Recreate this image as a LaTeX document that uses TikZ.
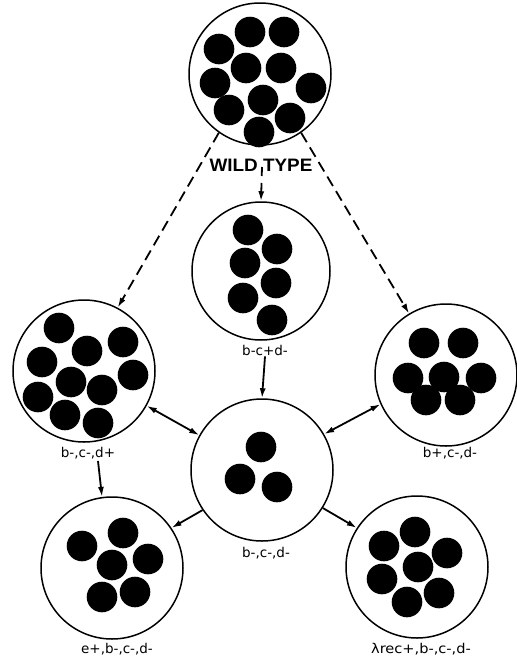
\documentclass[tikz,border=0pt]{standalone}
\usepackage{fontspec}
\setmainfont{Liberation Sans}
\newfontfamily\labelfont{DejaVu Sans}
\usetikzlibrary{arrows.meta}
\begin{document}
\begin{tikzpicture}[x=1pt,y=-1pt,
  colony/.style={circle,draw=black,line width=1.5pt,minimum size=142pt,inner sep=0pt},
  genotype/.style={font=\labelfont\fontsize{13.5}{15}\selectfont,inner sep=1pt},
  link/.style={line width=1.8pt,-{Latex[length=10pt,width=6pt]}},
  twoway/.style={line width=1.8pt,{Latex[length=10pt,width=6pt]}-{Latex[length=10pt,width=6pt]}},
  dashlink/.style={link,dash pattern=on 11pt off 6pt},
  dotr/.store in=\dotr, dotr=15.3]
\useasboundingbox (0,0) rectangle (517,659);

% colonies
\node[colony] (wt) at (260,74) {};
\node[colony,minimum size=138pt] (m) at (261,271) {};
\node[colony] (l) at (84,371) {};
\node[colony] (r) at (446,375) {};
\node[colony] (c) at (262,470) {};
\node[colony] (bl) at (112,568) {};
\node[colony] (br) at (417,567) {};

% plaques inside each colony
\foreach \p in {(250,32),(284,32),(219,49),(246,68),(281,68),(215,83),(311,88),(263,100),(229,110),(290,118),(259,132)}
  \fill \p circle (\dotr);
\foreach \p in {(248,230),(277,249),(245,263),(276,283),(243,298),(272,320)}
  \fill \p circle (\dotr);
\foreach \p in {(59,328),(87,351),(123,342),(42,362),(71,382),(133,375),(38,397),(102,390),(65,415),(98,423)}
  \fill \p circle (\dotr);
\foreach \p in {(424,343),(463,343),(408,378),(444,377),(481,378),(426,400),(460,400)}
  \fill \p circle (\dotr);
\foreach \p in {(261,447),(240,479),(277,487)}
  \fill \p circle (\dotr);
\foreach \p in {(82,546),(123,533),(112,565),(148,559),(102,597),(135,592)}
  \fill \p circle (\dotr);
\foreach \p in {(384,546),(415,532),(447,553),(418,567),(382,579),(439,593),(407,602)}
  \fill \p circle (\dotr);

% labels
\node[font=\bfseries\fontsize{18}{20}\selectfont,inner sep=1pt,xscale=1.05] (wtl) at (261,165) {WILD TYPE};
\node[genotype] (ml) at (265,350) {b-c+d-};
\node[genotype] (ll) at (88,453) {b-,c-,d+};
\node[genotype] (rl) at (450,453) {b+,c-,d-};
\node[genotype] (cl) at (266,553) {b-,c-,d-};
\node[genotype] (bll) at (117,649) {e+,b-,c-,d-};
\node[genotype,xscale=1.08] (brl) at (421,649) {λrec+,b-,c-,d-};

% connectors
\coordinate (wtdrop) at (262,167);
\coordinate (ldrop) at (98,461);
\draw[dashlink] (wt.235) -- (l.62);
\draw[dashlink] (wt.305) -- (r.121);
\draw[dashlink,dash pattern=on 9pt off 7pt] (wtdrop) -- (m.north);
\draw[link] (ml.south) -- (c.north);
\draw[twoway] (l.331) -- (c.151);
\draw[twoway] (r.204) -- (c.30);
\draw[link] (ldrop) -- (bl.98);
\draw[link] (c.214) -- (bl.34);
\draw[link] (c.328) -- (br.147);
\end{tikzpicture}
\end{document}
